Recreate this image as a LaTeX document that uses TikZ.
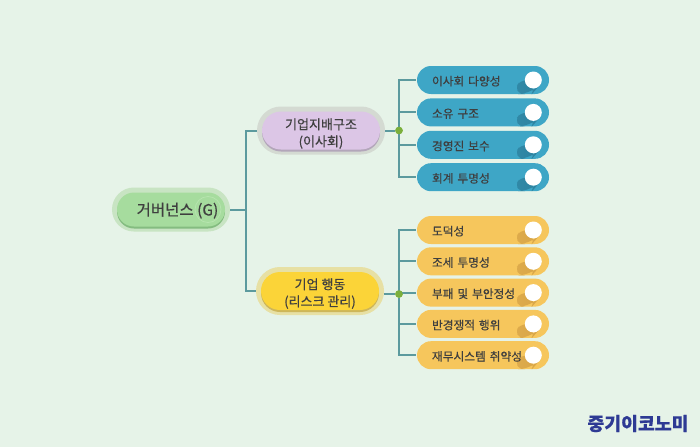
\documentclass[tikz,border=0pt]{standalone}
\usepackage{fontspec}
\setmainfont[FakeBold=0.5]{Noto Sans CJK KR}
\usetikzlibrary{positioning}
\definecolor{bgcol}{HTML}{E6F3E8}
\definecolor{linecol}{HTML}{5C9A9E}
\definecolor{dotcol}{HTML}{7BAF3C}
\definecolor{inkcol}{HTML}{3F3F3F}
\definecolor{logocol}{HTML}{2E3A94}
\definecolor{bluecol}{HTML}{3EA6C6}
\definecolor{blueshade}{HTML}{2C7F9C}
\definecolor{yellowcol}{HTML}{F6C65C}
\definecolor{yellowshade}{HTML}{D5A246}
\definecolor{rootcol}{HTML}{A6DC9E}
\definecolor{roothalo}{HTML}{C8E4C3}
\definecolor{rootshade}{HTML}{84BC80}
\definecolor{rootring}{HTML}{B6E4AE}
\definecolor{boardcol}{HTML}{DCC6E6}
\definecolor{boardhalo}{HTML}{D4DAD2}
\definecolor{boardshade}{HTML}{B3A6BA}
\definecolor{riskcol}{HTML}{FBD438}
\definecolor{riskhalo}{HTML}{E7E0A4}
\definecolor{riskshade}{HTML}{CDB65A}
\newcommand{\lowstrut}[1]{\rule{0pt}{#1pt}}
\tikzstyle{link} = [draw=linecol, line width=2pt]
\tikzstyle{junction} = [circle, fill=dotcol, inner sep=0pt, minimum size=7.5pt]
\tikzstyle{knob} = [circle, fill=white, inner sep=0pt, minimum size=17pt]
\tikzstyle{bigpill} = [rounded corners=19pt, text=inkcol, align=center, outer sep=5pt, inner sep=0pt, minimum width=118pt, minimum height=38pt, font=\fontsize{13}{17}\selectfont]
\tikzstyle{boardpill} = [bigpill, fill=boardcol, preaction={draw=boardhalo, line width=10pt}, preaction={fill=boardshade, transform canvas={yshift=-2pt}}]
\tikzstyle{riskpill} = [bigpill, fill=riskcol, preaction={draw=riskhalo, line width=10pt}, preaction={fill=riskshade, transform canvas={yshift=-2pt}}]
\tikzstyle{rootpill} = [bigpill, rounded corners=17pt, minimum width=108pt, minimum height=34pt, fill=rootcol, font=\fontsize{15.5}{17}\selectfont, preaction={draw=roothalo, line width=10pt}, preaction={fill=rootshade, transform canvas={yshift=-2pt}}]
\tikzstyle{leaf} = [rounded corners=14pt, minimum width=132pt, minimum height=28pt, text width=102pt, inner sep=0pt, align=left, text=inkcol, outer sep=1.5pt, font=\fontsize{11.7}{14}\selectfont]
\newcommand{\glowband}[2]{\shade[left color=#1, right color=#2] ([xshift=-24pt,yshift=6pt]path picture bounding box.east) -- ([xshift=-10pt,yshift=-6pt]path picture bounding box.east) -- ([xshift=-17pt,yshift=-14pt]path picture bounding box.east) -- ([xshift=-38pt,yshift=-14pt]path picture bounding box.east) -- cycle;}
\tikzstyle{blueleaf} = [leaf, fill=bluecol, path picture={\glowband{bluecol}{blueshade}}]
\tikzstyle{yellowleaf} = [leaf, fill=yellowcol, path picture={\glowband{yellowcol}{yellowshade}}]
\begin{document}
\begin{tikzpicture}[x=1pt,y=-1pt]
  \useasboundingbox (0,0) rectangle (700,447);
  \fill[bgcol] (0,0) rectangle (700,447);

  \node (root) [rootpill] at (171,209.5) {\hspace*{13pt}\lowstrut{15}거버넌스 (G)};
  \node (ring) [circle, draw=rootring, line width=0.8pt, minimum size=26pt, inner sep=0pt] at (208,209.5) {};
  \node (board) [boardpill] at (321,130.5) {\lowstrut{17}기업지배구조\\(이사회)};
  \node (risk) [riskpill] at (320,291) {\lowstrut{16}기업 행동\\(리스크 관리)};

  \node (lf1) [blueleaf] at (483,80) {\lowstrut{12}이사회 다양성};
  \node (lf2) [blueleaf, below=1.4pt of lf1] {\lowstrut{12}소유 구조};
  \node (lf3) [blueleaf, below=1.4pt of lf2] {\lowstrut{12}경영진 보수};
  \node (lf4) [blueleaf, below=1.4pt of lf3] {\lowstrut{12}회계 투명성};

  \node (lf5) [yellowleaf] at (483,230) {\lowstrut{12}도덕성};
  \node (lf6) [yellowleaf, below=0.3pt of lf5] {\lowstrut{12}조세 투명성};
  \node (lf7) [yellowleaf, below=0.3pt of lf6] {\lowstrut{12}부패 및 부안정성};
  \node (lf8) [yellowleaf, below=0.3pt of lf7] {\lowstrut{12}반경쟁적 행위};
  \node (lf9) [yellowleaf, below=0.3pt of lf8] {\lowstrut{12}재무시스템 취약성};

  \node (kn1) [knob, left=8.5pt of lf1.east] {};
  \node (kn2) [knob, left=8.5pt of lf2.east] {};
  \node (kn3) [knob, left=8.5pt of lf3.east] {};
  \node (kn4) [knob, left=8.5pt of lf4.east] {};
  \node (kn5) [knob, left=8.5pt of lf5.east] {};
  \node (kn6) [knob, left=8.5pt of lf6.east] {};
  \node (kn7) [knob, left=8.5pt of lf7.east] {};
  \node (kn8) [knob, left=8.5pt of lf8.east] {};
  \node (kn9) [knob, left=8.5pt of lf9.east] {};

  \coordinate (hub) at (245.5,209.5);
  \node (dot1) [junction] at (399,130.5) {};
  \node (dot2) [junction] at (399,294) {};

  \draw [link] (root.east) -- (hub);
  \draw [link] (hub) |- (board.west);
  \draw [link] (hub) |- (risk.west);
  \draw [link] (board.east) -- (dot1);
  \draw [link] (risk.east |- dot2) -- (dot2);

  \draw [link] (dot1) |- (lf1.west);
  \draw [link] (dot1) |- (lf2.west);
  \draw [link] (dot1) |- (lf3.west);
  \draw [link] (dot1) |- (lf4.west);
  \draw [link] (dot2) |- (lf5.west);
  \draw [link] (dot2) |- (lf6.west);
  \draw [link] (dot2) |- (lf7.west);
  \draw [link] (dot2) |- (lf8.west);
  \draw [link] (dot2) |- (lf9.west);

  % junctions again, on top of the lines
  \node [junction] at (dot1) {};
  \node [junction] at (dot2) {};

  \node (logo) [text=logocol, font=\fontsize{18.3}{20}\selectfont\bfseries] at (638,423.5) {중기이코노미};
\end{tikzpicture}
\end{document}
